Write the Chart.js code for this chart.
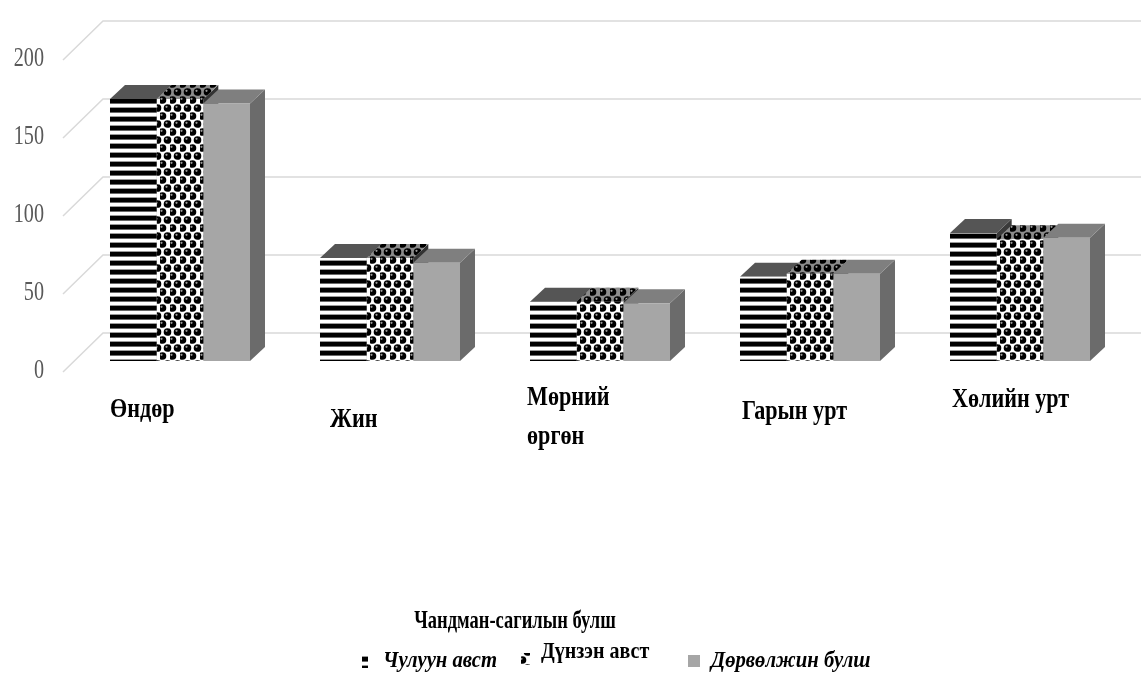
<!DOCTYPE html>
<html><head><meta charset="utf-8">
<script src="https://cdn.jsdelivr.net/npm/chart.js@4.4.0/dist/chart.umd.min.js"></script>
<style>html,body{margin:0;padding:0;background:#fff}#wrap{width:1141px;height:673px}</style>
</head><body><div id="wrap"><canvas id="c" width="1141" height="673"></canvas></div>
<script>
const categories = ['Өндөр', 'Жин', ['Мөрний', 'өргөн'], 'Гарын урт', 'Хөлийн урт'];
const seriesNames = ['Чулуун авст', 'Дүнзэн авст', 'Дөрвөлжин булш'];
const stoneValues = [168, 66, 38, 54, 82];
const logValues = [168, 66, 38, 56, 78];
const squareValues = [165, 63, 37, 56, 79];
const yTicks = [0, 50, 100, 150, 200];
const legendTitle = 'Чандман-сагилын булш';

const SERIF = '"Liberation Serif", "DejaVu Serif", serif';
const ctx0 = document.getElementById('c').getContext('2d');

function stripePattern(ctx) {
  const c = document.createElement('canvas'); c.width = 8; c.height = 9;
  const g = c.getContext('2d');
  g.fillStyle = '#ffffff'; g.fillRect(0, 0, 8, 9);
  g.fillStyle = '#000000'; g.fillRect(0, 0, 8, 4);
  g.fillStyle = '#6a6a6a'; g.fillRect(0, 4, 8, 1);
  g.fillStyle = '#9a9a9a'; g.fillRect(0, 8, 8, 1);
  return ctx.createPattern(c, 'repeat');
}
function dotPattern(ctx, dark) {
  const c = document.createElement('canvas'); c.width = 10; c.height = 16;
  const g = c.getContext('2d');
  g.fillStyle = dark ? '#8c8c8c' : '#ffffff'; g.fillRect(0, 0, 10, 16);
  const pts = [[2.5, 4], [7.5, 12], [-2.5, 12], [12.5, 12], [2.5, 20], [7.5, -4]];
  for (const [px, py] of pts) {
    g.fillStyle = '#000';
    g.beginPath(); g.arc(px, py, 3.8, 0, Math.PI * 2); g.fill();
    g.fillStyle = '#9a9a9a';
    g.beginPath(); g.arc(px - 1, py - 1.2, 1.1, 0, Math.PI * 2); g.fill();
  }
  return ctx.createPattern(c, 'repeat');
}
const stripeFill = stripePattern(ctx0);
const dotFill = dotPattern(ctx0, false);
const dotTop = dotPattern(ctx0, true);
const greyFront = '#a6a6a6';

const faceStyles = [
  { top: '#555555', side: '#3a3a3a' },
  { top: dotTop, side: '#333333' },
  { top: '#7f7f7f', side: '#6b6b6b' }
];
const DX = 15, DY = 14;

function sText(ctx, text, x, y, font, align, sx) {
  ctx.save();
  ctx.translate(x, y);
  ctx.scale(sx, 1);
  ctx.font = font;
  ctx.textAlign = align;
  ctx.fillText(text, 0, 0);
  ctx.restore();
}

const threeD = {
  id: 'threeD',
  beforeDatasetsDraw(chart) {
    const ctx = chart.ctx, y = chart.scales.y, a = chart.chartArea;
    ctx.save();
    ctx.strokeStyle = '#d9d9d9'; ctx.lineWidth = 1.5;
    for (const v of yTicks) {
      const yf = y.getPixelForValue(v);
      ctx.beginPath();
      ctx.moveTo(a.left - 12, yf + 11);
      ctx.lineTo(a.left + 28, yf - 28);
      ctx.lineTo(chart.width, yf - 28);
      ctx.stroke();
    }
    const n = chart.data.labels.length;
    for (let i = 0; i < n; i++) {
      for (let d = 0; d < chart.data.datasets.length; d++) {
        const el = chart.getDatasetMeta(d).data[i];
        const p = el.getProps(['x', 'y', 'base', 'width'], true);
        const l = p.x - p.width / 2, r = p.x + p.width / 2;
        ctx.fillStyle = faceStyles[d].side;
        ctx.beginPath();
        ctx.moveTo(r, p.y); ctx.lineTo(r + DX, p.y - DY); ctx.lineTo(r + DX, p.base - DY); ctx.lineTo(r, p.base);
        ctx.closePath(); ctx.fill();
        ctx.fillStyle = faceStyles[d].top;
        ctx.beginPath();
        ctx.moveTo(l, p.y); ctx.lineTo(l + DX, p.y - DY); ctx.lineTo(r + DX, p.y - DY); ctx.lineTo(r, p.y);
        ctx.closePath(); ctx.fill();
      }
    }
    ctx.restore();
  }
};

const catLabelShift = [[0, 49], [10, 59], [-3, 37], [2, 51], [2, 39]];
const textPlugin = {
  id: 'texts',
  afterDraw(chart) {
    const ctx = chart.ctx, x = chart.scales.x, y = chart.scales.y, a = chart.chartArea;
    const half = x.width / chart.data.labels.length * 0.6667 / 2;
    ctx.save();
    ctx.textBaseline = 'middle';
    // y tick labels
    ctx.fillStyle = '#595959';
    for (const v of yTicks) {
      sText(ctx, String(v), 44, y.getPixelForValue(v) + 10, '28px ' + SERIF, 'right', 0.72);
    }
    // category labels
    ctx.fillStyle = '#000';
    categories.forEach((lab, i) => {
      const lx = x.getPixelForValue(i) - half + catLabelShift[i][0];
      const ly = a.bottom + catLabelShift[i][1];
      const lines = Array.isArray(lab) ? lab : [lab];
      lines.forEach((t, k) => sText(ctx, t, lx, ly + k * 39, 'bold 27px ' + SERIF, 'left', 0.82));
    });
    // legend
    ctx.textBaseline = 'alphabetic';
    sText(ctx, legendTitle, 515, 628, 'bold 25px ' + SERIF, 'center', 0.74);
    ctx.fillStyle = stripeFill; ctx.fillRect(362, 655, 6, 13);
    ctx.fillStyle = dotFill; ctx.fillRect(521, 653, 9, 12);
    ctx.fillStyle = greyFront; ctx.fillRect(688, 655, 12, 12);
    ctx.fillStyle = '#000';
    sText(ctx, seriesNames[0], 383, 667, 'italic bold 23px ' + SERIF, 'left', 0.9);
    sText(ctx, seriesNames[1], 541, 658, 'bold 23px ' + SERIF, 'left', 0.87);
    sText(ctx, seriesNames[2], 711, 667, 'italic bold 23px ' + SERIF, 'left', 0.9);
    ctx.restore();
  }
};

new Chart(ctx0, {
  type: 'bar',
  data: {
    labels: categories,
    datasets: [
      { label: seriesNames[0], data: stoneValues, backgroundColor: stripeFill },
      { label: seriesNames[1], data: logValues, backgroundColor: dotFill },
      { label: seriesNames[2], data: squareValues, backgroundColor: greyFront }
    ]
  },
  options: {
    responsive: false,
    animation: false,
    devicePixelRatio: 1,
    layout: { padding: { top: 49, bottom: 312, right: 16, left: 0 } },
    datasets: { bar: { categoryPercentage: 0.6667, barPercentage: 1.0, borderWidth: 0 } },
    plugins: { legend: { display: false }, tooltip: { enabled: false } },
    scales: {
      x: { display: false },
      y: {
        min: 0, max: 200,
        afterFit(s) { s.width = 75; },
        afterBuildTicks(s) { s.ticks = yTicks.map(v => ({ value: v })); },
        grid: { display: false, drawTicks: false },
        border: { display: false },
        ticks: { display: false }
      }
    }
  },
  plugins: [threeD, textPlugin]
});
</script></body></html>
